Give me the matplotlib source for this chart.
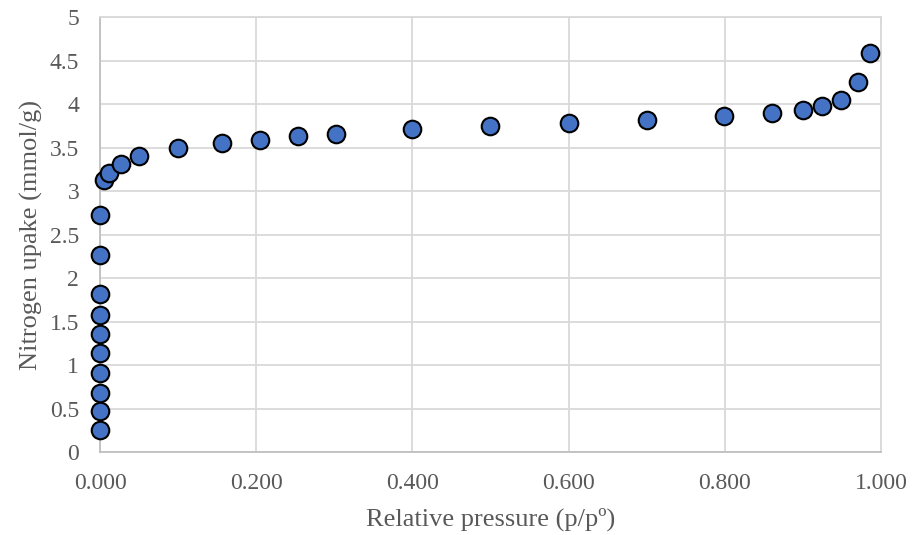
import matplotlib.pyplot as plt
from matplotlib.ticker import FuncFormatter, MultipleLocator

# nitrogen adsorption isotherm
pressure = [0.0, 0.0, 0.0, 0.0, 0.0, 0.0, 0.0, 0.0, 0.0, 0.0,
            0.005, 0.012, 0.027, 0.050, 0.100, 0.156, 0.205, 0.253, 0.302, 0.399,
            0.499, 0.600, 0.700, 0.799, 0.860, 0.900, 0.925, 0.949, 0.971, 0.986]
uptake = [0.25, 0.47, 0.68, 0.91, 1.14, 1.36, 1.58, 1.82, 2.27, 2.73,
          3.13, 3.21, 3.31, 3.40, 3.49, 3.55, 3.59, 3.63, 3.66, 3.71,
          3.75, 3.78, 3.82, 3.86, 3.90, 3.93, 3.98, 4.05, 4.25, 4.59]

plt.rcParams['font.family'] = ['Liberation Serif', 'DejaVu Serif']
txt = '#595959'
grid = '#d9d9d9'

fig = plt.figure(figsize=(9.15, 5.35), dpi=100)
ax = fig.add_axes([0.1093, 0.1551, 0.8535, 0.8131])

ax.scatter(pressure, uptake, s=160, color='#4472C4', edgecolors='black',
           linewidths=1.5, zorder=3, clip_on=False)

ax.set_xlim(0, 1.0)
ax.set_ylim(0, 5)
ax.xaxis.set_major_locator(MultipleLocator(0.2))
ax.yaxis.set_major_locator(MultipleLocator(0.5))
ax.xaxis.set_major_formatter(FuncFormatter(lambda v, p: '%.3f' % v))
ax.yaxis.set_major_formatter(FuncFormatter(lambda v, p: ('%g' % v)))
ax.grid(True, color=grid, lw=1.3, zorder=0)
ax.set_axisbelow(True)
for s in ['top', 'right']:
    ax.spines[s].set_color(grid)
    ax.spines[s].set_linewidth(1.3)
for s in ['left', 'bottom']:
    ax.spines[s].set_color('#bfbfbf')
    ax.spines[s].set_linewidth(1.3)
ax.tick_params(length=0, labelsize=17, colors=txt)
ax.tick_params(axis='x', pad=15)
ax.tick_params(axis='y', pad=15)

ax.set_xlabel('Relative pressure (p/pº)', fontsize=19, color=txt, labelpad=10)
ax.set_ylabel('Nitrogen upake (mmol/g)', fontsize=19, color=txt, labelpad=5)

plt.savefig('out.png', dpi=100)
